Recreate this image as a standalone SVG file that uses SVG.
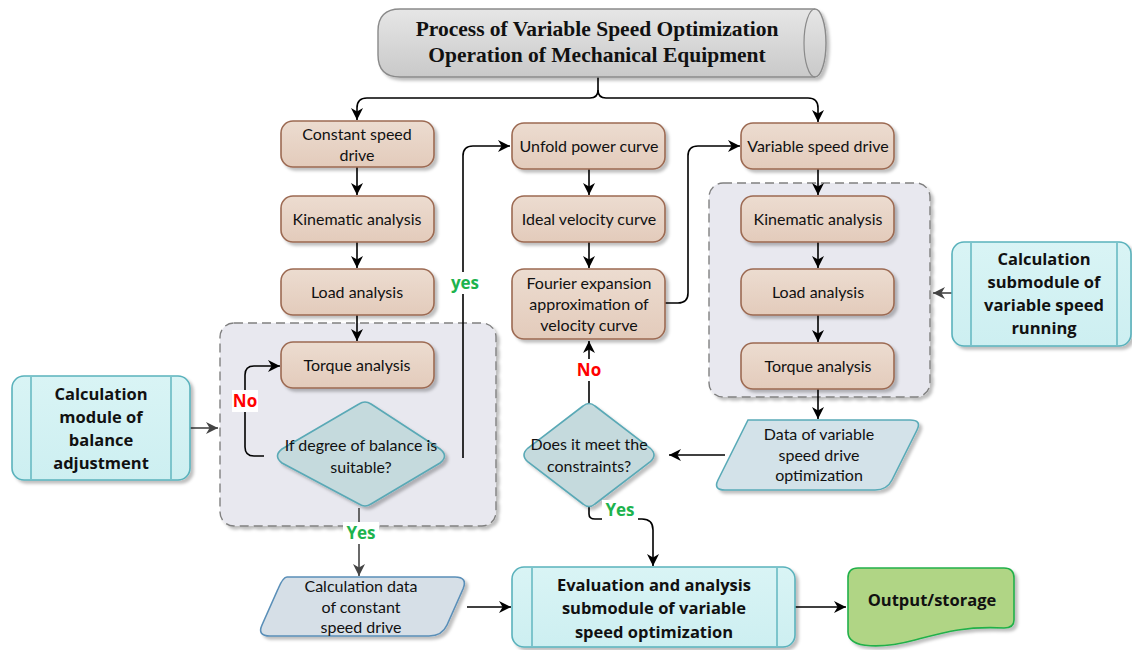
<svg xmlns="http://www.w3.org/2000/svg" width="1132" height="650" viewBox="0 0 1132 650">
<style>
.tan{fill:url(#gTan);stroke:#9c6a52;stroke-width:1.6;filter:url(#sh)}
.cy{fill:url(#gCy);stroke:#5ab2bc;stroke-width:1.6;filter:url(#sh)}
.cyl{fill:none;stroke:#5ab2bc;stroke-width:1.4}
.dia{fill:#c5dadd;stroke:#5aa9b6;stroke-width:1.6;filter:url(#sh)}
.cont{fill:#e8e8ef;stroke:#808080;stroke-width:1.4;stroke-dasharray:9 5;filter:url(#sh)}
.t{font-family:Lato,"Open Sans",sans-serif;font-size:16px;fill:#111;text-anchor:middle}
.tb{font-family:"Open Sans",Lato,sans-serif;font-size:16.5px;font-weight:bold;fill:#111;text-anchor:middle}
.c{fill:none;stroke:#000;stroke-width:1.6}
.cg{fill:none;stroke:#444;stroke-width:1.6}
.lg{font-family:"Open Sans",sans-serif;font-size:17px;font-weight:bold;fill:#1db34e;text-anchor:middle}
.lr{font-family:"Open Sans",sans-serif;font-size:17px;font-weight:bold;fill:#ff0000;text-anchor:middle}
</style>
<defs>
<linearGradient id="gTan" x1="0" y1="0" x2="0" y2="1"><stop offset="0" stop-color="#ecdcd0"/><stop offset="1" stop-color="#e3cbbb"/></linearGradient>
<linearGradient id="gCy" x1="0" y1="0" x2="0" y2="1"><stop offset="0" stop-color="#d9f4f5"/><stop offset="1" stop-color="#cdeff1"/></linearGradient>
<linearGradient id="gTitle" x1="0" y1="0" x2="0" y2="1"><stop offset="0" stop-color="#e6e6e6"/><stop offset="1" stop-color="#c9c9c9"/></linearGradient>
<filter id="sh" x="-10%" y="-10%" width="130%" height="140%"><feDropShadow dx="3" dy="3" stdDeviation="1.5" flood-color="#000" flood-opacity="0.25"/></filter>
<marker id="ar" markerWidth="12" markerHeight="12" refX="10" refY="5" orient="auto" markerUnits="userSpaceOnUse" viewBox="0 0 10 10"><path d="M0,0 L10,5 L0,10 L3,5 Z" fill="#000"/></marker>
<marker id="arg" markerWidth="12" markerHeight="12" refX="10" refY="5" orient="auto" markerUnits="userSpaceOnUse" viewBox="0 0 10 10"><path d="M0,0 L10,5 L0,10 L3,5 Z" fill="#444"/></marker>
</defs>

<!-- containers -->
<g id="container-left"><rect class="cont" x="220" y="323" width="276" height="203" rx="14"/></g>
<g id="container-right"><rect class="cont" x="709" y="183" width="221" height="214" rx="14"/></g>

<!-- connectors -->
<g id="connectors">
<path class="c" d="M598,77 V90 Q598,98 590,98 H367 Q357,98 357,108 V120" marker-end="url(#ar)"/>
<path class="c" d="M598,90 Q598,98 606,98 H808 Q818,98 818,108 V122" marker-end="url(#ar)"/>
<path class="c" d="M357,167 V195" marker-end="url(#ar)"/>
<path class="c" d="M357,242 V268" marker-end="url(#ar)"/>
<path class="c" d="M357,315 V341" marker-end="url(#ar)"/>
<path class="c" d="M264,456 H254 Q245,456 245,447 V375 Q245,366 254,366 H280" marker-end="url(#ar)"/>
<path class="c" d="M463,458 V156 Q463,146 473,146 H510" marker-end="url(#ar)"/>
<path class="cg" d="M359,508 V576" marker-end="url(#arg)"/>
<path class="cg" d="M190,428 H218" marker-end="url(#arg)"/>
<path class="c" d="M589,169 V195" marker-end="url(#ar)"/>
<path class="c" d="M589,242 V268" marker-end="url(#ar)"/>
<path class="c" d="M665,303 H678 Q688,303 688,293 V156 Q688,146 698,146 H740" marker-end="url(#ar)"/>
<path class="c" d="M589,403 V341" marker-end="url(#ar)"/>
<path class="c" d="M589,507 V514 Q589,519 595,519 H642 Q653,519 653,530 V566" marker-end="url(#ar)"/>
<path class="c" d="M818,169 V195" marker-end="url(#ar)"/>
<path class="c" d="M818,242 V268" marker-end="url(#ar)"/>
<path class="c" d="M818,315 V342" marker-end="url(#ar)"/>
<path class="c" d="M818,389 V419" marker-end="url(#ar)"/>
<path class="c" d="M725,455 H669" marker-end="url(#ar)"/>
<path class="cg" d="M952,293 H933" marker-end="url(#arg)"/>
<path class="c" d="M467,607 H511" marker-end="url(#ar)"/>
<path class="c" d="M795,607 H846" marker-end="url(#ar)"/>
</g>

<!-- title -->
<g id="title">
<path d="M400,9 H815 A11,34 0 0 1 815,77 H400 Q378,77 378,55 V31 Q378,9 400,9 Z" fill="url(#gTitle)" stroke="#8a8a8a" stroke-width="1.4" filter="url(#sh)"/>
<path d="M815,9 A11,34 0 0 0 815,77" fill="none" stroke="#8a8a8a" stroke-width="1.2"/>
<text x="597" y="36" font-family="Liberation Serif,serif" font-size="21.5" font-weight="bold" text-anchor="middle" fill="#111">Process of Variable Speed Optimization</text>
<text x="597" y="62" font-family="Liberation Serif,serif" font-size="21.5" font-weight="bold" text-anchor="middle" fill="#111">Operation of Mechanical Equipment</text>
</g>

<!-- left column -->
<g id="constant-speed-drive"><rect class="tan" x="281" y="121" width="153" height="46" rx="12"/><text class="t" x="357" y="140">Constant speed</text><text class="t" x="357" y="161">drive</text></g>
<g id="kinematic-left"><rect class="tan" x="281" y="196" width="153" height="46" rx="12"/><text class="t" x="357" y="225">Kinematic analysis</text></g>
<g id="load-left"><rect class="tan" x="281" y="269" width="153" height="46" rx="12"/><text class="t" x="357" y="298">Load analysis</text></g>
<g id="torque-left"><rect class="tan" x="281" y="342" width="153" height="46" rx="12"/><text class="t" x="357" y="371">Torque analysis</text></g>
<g id="balance-decision"><path class="dia" d="M359,404 Q365,400 371,404 L440,449 Q449,456 440,463 L371,504 Q365,508 359,504 L282,463 Q273,456 282,449 Z"/><text class="t" x="361" y="451">If degree of balance is</text><text class="t" x="361" y="473">suitable?</text></g>

<g id="calc-balance"><rect class="cy" x="12" y="376" width="178" height="104" rx="12"/><line class="cyl" x1="31" y1="377" x2="31" y2="479"/><line class="cyl" x1="171" y1="377" x2="171" y2="479"/>
<text class="tb" x="101" y="400">Calculation</text><text class="tb" x="101" y="423">module of</text><text class="tb" x="101" y="446">balance</text><text class="tb" x="101" y="469">adjustment</text></g>

<!-- middle column -->
<g id="unfold-power"><rect class="tan" x="512" y="123" width="153" height="46" rx="12"/><text class="t" x="589" y="152">Unfold power curve</text></g>
<g id="ideal-velocity"><rect class="tan" x="512" y="196" width="153" height="46" rx="12"/><text class="t" x="589" y="225">Ideal velocity curve</text></g>
<g id="fourier"><rect class="tan" x="512" y="269" width="153" height="70" rx="12"/><text class="t" x="589" y="289">Fourier expansion</text><text class="t" x="589" y="310">approximation of</text><text class="t" x="589" y="331">velocity curve</text></g>
<g id="constraints-decision"><path class="dia" d="M583,406 Q589,401 595,406 L650,448 Q658,455 650,462 L595,504 Q589,509 583,504 L528,462 Q520,455 528,448 Z"/><text class="t" x="589" y="450">Does it meet the</text><text class="t" x="589" y="472">constraints?</text></g>

<!-- right column -->
<g id="variable-speed-drive"><rect class="tan" x="741" y="123" width="153" height="46" rx="12"/><text class="t" x="818" y="152">Variable speed drive</text></g>
<g id="kinematic-right"><rect class="tan" x="741" y="196" width="153" height="46" rx="12"/><text class="t" x="818" y="225">Kinematic analysis</text></g>
<g id="load-right"><rect class="tan" x="741" y="269" width="153" height="46" rx="12"/><text class="t" x="818" y="298">Load analysis</text></g>
<g id="torque-right"><rect class="tan" x="741" y="343" width="153" height="46" rx="12"/><text class="t" x="818" y="372">Torque analysis</text></g>
<g id="data-variable"><path d="M748,420 H910 Q922,420 917,430 L892,480 Q887,490 875,490 H725 Q713,490 718,480 L743,430 Q748,420 748,420 Z" fill="#d3e2e9" stroke="#5aabb8" stroke-width="1.6" filter="url(#sh)"/><text class="t" x="819" y="440">Data of variable</text><text class="t" x="819" y="461">speed drive</text><text class="t" x="819" y="481">optimization</text></g>

<g id="calc-variable"><rect class="cy" x="952" y="242" width="179" height="104" rx="12"/><line class="cyl" x1="971" y1="243" x2="971" y2="345"/><line class="cyl" x1="1117" y1="243" x2="1117" y2="345"/>
<text class="tb" x="1044" y="265">Calculation</text><text class="tb" x="1044" y="288">submodule of</text><text class="tb" x="1044" y="311">variable speed</text><text class="tb" x="1044" y="334">running</text></g>

<!-- bottom -->
<g id="data-constant"><path d="M287,577 H455 Q468,577 463,589 L447,625 Q442,636 429,636 H270 Q257,636 262,625 L278,589 Q283,577 287,577 Z" fill="#d6dfe7" stroke="#5a8fb8" stroke-width="1.6" filter="url(#sh)"/><text class="t" x="361" y="592">Calculation data</text><text class="t" x="361" y="613">of constant</text><text class="t" x="361" y="633">speed drive</text></g>
<g id="evaluation"><rect class="cy" x="512" y="567" width="283" height="80" rx="12"/><line class="cyl" x1="532" y1="568" x2="532" y2="646"/><line class="cyl" x1="777" y1="568" x2="777" y2="646"/>
<text class="tb" x="654" y="591">Evaluation and analysis</text><text class="tb" x="654" y="614">submodule of variable</text><text class="tb" x="654" y="638">speed optimization</text></g>
<g id="output"><path d="M858,568 H1004 Q1014,568 1014,578 V620 Q1014,628 1004,628 C965,626 945,632 915,640 C885,648 848,650 848,632 V578 Q848,568 858,568 Z" fill="#b0d585" stroke="#22b04a" stroke-width="1.6" filter="url(#sh)"/><text class="tb" x="932" y="606" font-size="19">Output/storage</text></g>

<!-- labels -->
<g id="labels">
<rect x="232" y="390" width="26" height="22" fill="#fff"/><text class="lr" x="245" y="407">No</text>
<rect x="448" y="272" width="34" height="22" fill="#fff"/><text class="lg" x="465" y="289">yes</text>
<rect x="343" y="522" width="36" height="22" fill="#fff"/><text class="lg" x="361" y="539">Yes</text>
<rect x="574" y="359" width="30" height="22" fill="#fff"/><text class="lr" x="589" y="376">No</text>
<rect x="602" y="500" width="36" height="20" fill="#fff"/><text class="lg" x="620" y="516">Yes</text>
</g>
</svg>
